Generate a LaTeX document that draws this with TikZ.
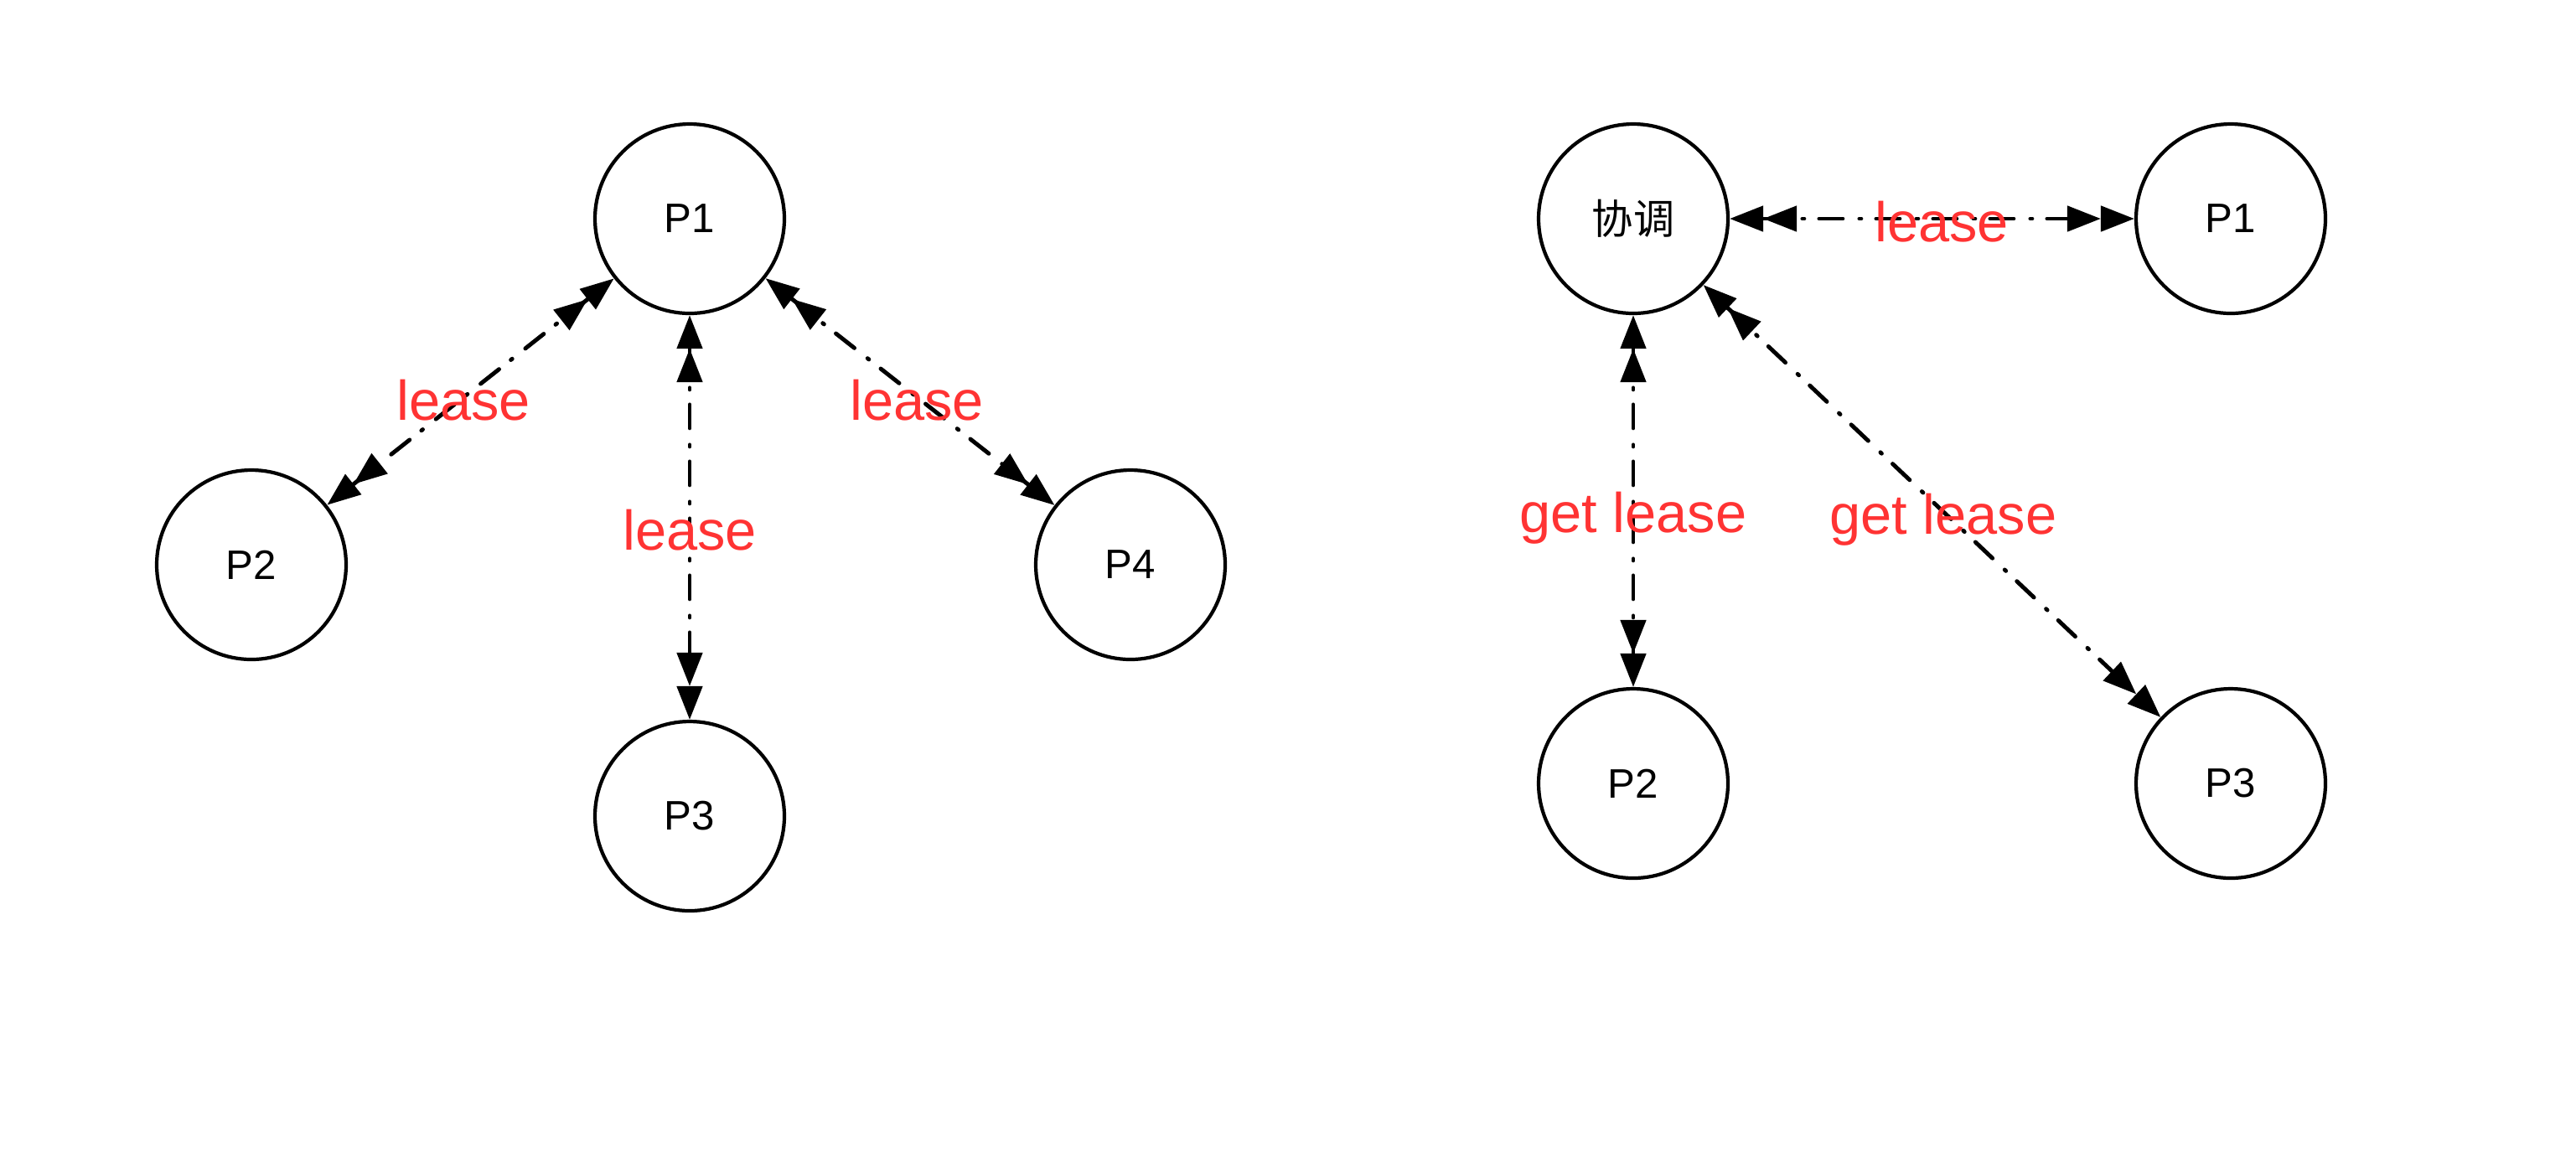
\documentclass[tikz,border=0pt]{standalone}
\usepackage{fontspec}
\setmainfont{Liberation Sans}
\newfontfamily\cjk{Noto Sans CJK SC}
\usetikzlibrary{arrows.meta}
\definecolor{leaseCol}{HTML}{FF3333}
\tikzset{
  proc/.style={draw, circle, line width=1.2pt, minimum size=2.26cm, inner sep=0pt,
        font=\fontsize{14}{16}\selectfont},
  lbl/.style={text=leaseCol, font=\fontsize{19}{22}\selectfont, inner sep=0pt},
  lnk/.style={{Triangle[length=0.4cm,width=0.3cm,line cap=butt]Triangle[length=0.4cm,width=0.3cm,line cap=butt]}-{Triangle[length=0.4cm,width=0.3cm,line cap=butt]Triangle[length=0.4cm,width=0.3cm,line cap=butt]},
        line width=1.4pt, line cap=round, dash pattern=on 0.28cm off 0.2cm on 0.02cm off 0.18cm},
}
\begin{document}
\begin{tikzpicture}
  \useasboundingbox (0,0) rectangle (30.74,-13.87);
  % --- lease among peers ---
  \node[proc] (p1) at (8.23,-2.61) {P1};
  \node[proc] (p2) at (3.00,-6.74) {P2};
  \node[proc] (p3) at (8.23,-9.74) {P3};
  \node[proc] (p4) at (13.49,-6.74) {P4};
  \draw[lnk] (p1)--(p2);
  \draw[lnk] (p1)--(p3);
  \draw[lnk] (p1)--(p4);
  \node[lbl] (l12) at (5.53,-4.78) {lease};
  \node[lbl] (l13) at (8.23,-6.33) {lease};
  \node[lbl] (l14) at (10.94,-4.78) {lease};
  % --- coordinator ---
  \node[proc] (co) at (19.49,-2.61) {\cjk 协调};
  \node[proc] (q1) at (26.62,-2.61) {P1};
  \node[proc] (q2) at (19.49,-9.35) {P2};
  \node[proc] (q3) at (26.62,-9.35) {P3};
  \draw[lnk] (co)--(q1);
  \draw[lnk] (co)--(q2);
  \draw[lnk] (co)--(q3);
  \node[lbl] (lc1) at (23.17,-2.65) {lease};
  \node[lbl] (lc2) at (19.49,-6.18) {get lease};
  \node[lbl] (lc3) at (23.19,-6.20) {get lease};
\end{tikzpicture}
\end{document}
